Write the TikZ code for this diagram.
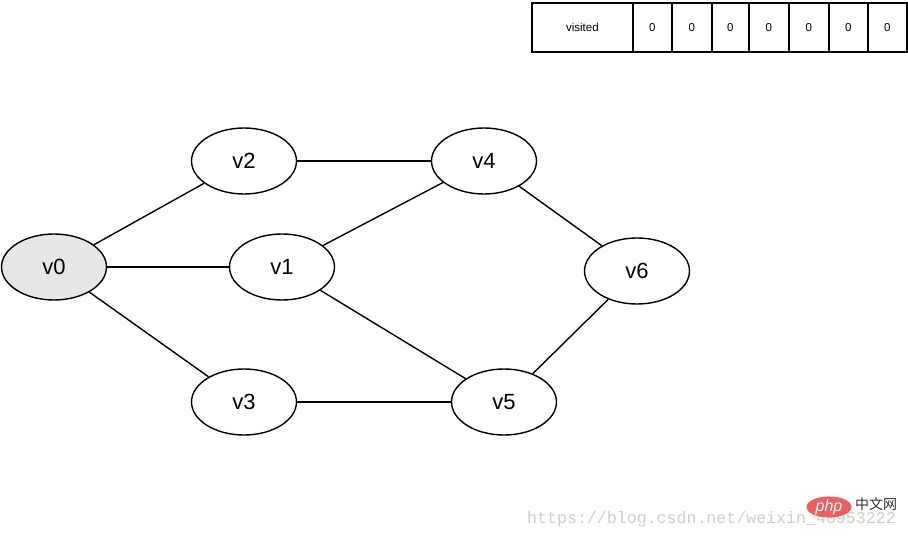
\documentclass[tikz,border=0pt]{standalone}
\usepackage{fontspec}
\setmainfont{Liberation Sans}
\newfontfamily\wmfont{Liberation Mono}
\newfontfamily\cjkfont{Noto Sans CJK SC}
\usetikzlibrary{shapes.geometric}
\definecolor{vfill}{HTML}{E6E6E6}
\definecolor{wmgray}{HTML}{D2CEC6}
\definecolor{phpred}{HTML}{EC5F5E}
\tikzset{
  vnode/.style={ellipse, draw=black, line width=1.4pt, minimum width=105pt, minimum height=66pt, inner sep=0pt, fill=white, font=\fontsize{22}{24}\selectfont},
  edge/.style={draw=black, line width=1.4pt},
  cell/.style={draw=black, line width=1.8pt, minimum height=49pt, inner sep=0pt, anchor=north west, font=\fontsize{11.5}{12}\selectfont}
}
\begin{document}
\begin{tikzpicture}[x=1pt,y=-1pt]
\useasboundingbox (0,0) rectangle (908,537);
% table
\node[cell, minimum width=101pt] (tv) at (531,2) {visited};
\node[cell, minimum width=39pt] (t1) at (632,2) {0};
\node[cell, minimum width=40pt] (t2) at (671,2) {0};
\node[cell, minimum width=37pt] (t3) at (711,2) {0};
\node[cell, minimum width=40pt] (t4) at (748,2) {0};
\node[cell, minimum width=40pt] (t5) at (788,2) {0};
\node[cell, minimum width=39pt] (t6) at (828,2) {0};
\node[cell, minimum width=39pt] (t7) at (867,2) {0};
% nodes
\node[vnode, fill=vfill] (v0) at (54,267) {v0};
\node[vnode] (v2) at (244,161) {v2};
\node[vnode] (v4) at (484,161) {v4};
\node[vnode] (v1) at (282,267) {v1};
\node[vnode] (v6) at (637,271) {v6};
\node[vnode] (v3) at (244,402) {v3};
\node[vnode] (v5) at (504,402) {v5};
% edges
\draw[edge] (v0) -- (v2);
\draw[edge] (v0) -- (v1);
\draw[edge] (v0) -- (v3);
\draw[edge] (v2) -- (v4);
\draw[edge] (v1) -- (v4);
\draw[edge] (v1) -- (v5);
\draw[edge] (v3) -- (v5);
\draw[edge] (v4) -- (v6);
\draw[edge] (v5) -- (v6);
% watermark
\node[anchor=base west, inner sep=0pt, text=wmgray, font=\wmfont\fontsize{16.6}{18}\selectfont] (wm) at (527,523) {https://blog.csdn.net/weixin\_40953222};
\node[ellipse, fill=phpred, minimum width=45pt, minimum height=20pt, inner sep=0pt, text=white, font=\fontsize{16}{16}\selectfont\itshape] (php) at (829,507) {php};
\node[anchor=west, inner sep=0pt, text=black!80, font=\cjkfont\fontsize{14}{15}\selectfont] (cn) at (855,504) {中文网};
\end{tikzpicture}
\end{document}
